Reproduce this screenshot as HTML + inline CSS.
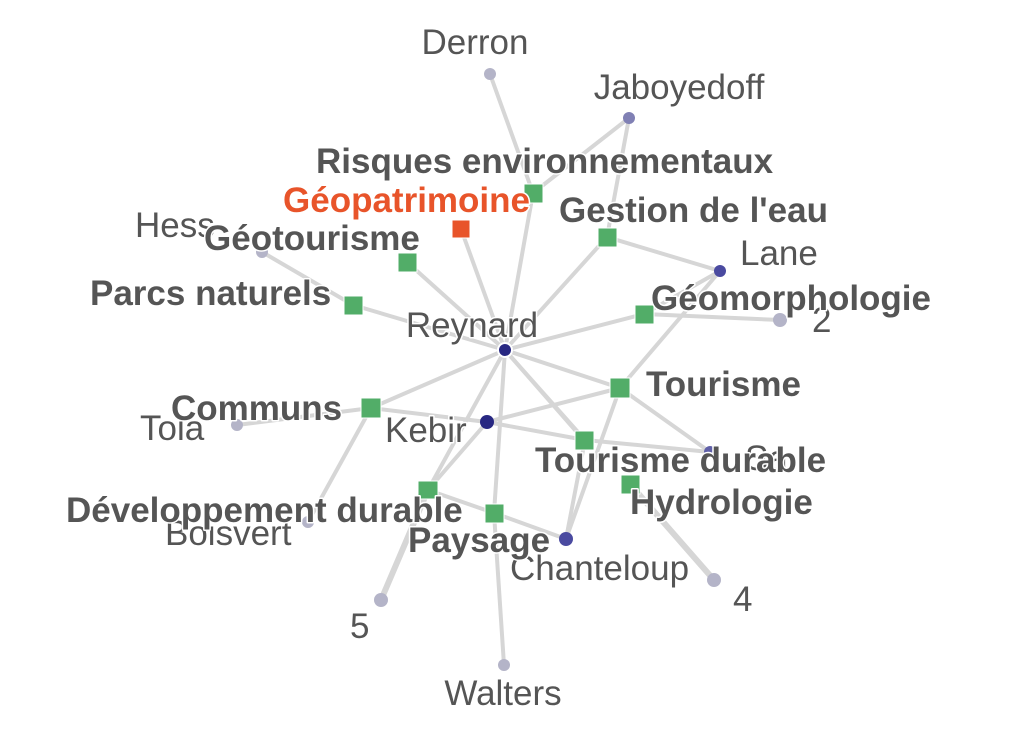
<!DOCTYPE html>
<html><head><meta charset="utf-8"><style>
html,body{margin:0;padding:0;background:#fff;}
svg{display:block;}
text{font-family:"Liberation Sans",Arial,sans-serif;fill:#555;stroke:#fff;stroke-width:3px;paint-order:stroke;stroke-linejoin:round;}
.n{font-size:35px;}
.b{font-size:35px;font-weight:bold;}
</style></head><body>
<svg width="1024" height="741" viewBox="0 0 1024 741">
<g stroke="#d6d6d6" stroke-width="4" fill="none" stroke-linecap="round">
<line x1="490" y1="74" x2="533" y2="193"/>
<line x1="629" y1="118" x2="533" y2="193"/>
<line x1="629" y1="118" x2="607" y2="237"/>
<line x1="533" y1="193" x2="505" y2="350"/>
<line x1="461" y1="229" x2="505" y2="350"/>
<line x1="607" y1="237" x2="505" y2="350"/>
<line x1="607" y1="237" x2="720" y2="271"/>
<line x1="720" y1="271" x2="620" y2="388"/>
<line x1="720" y1="271" x2="644" y2="314"/>
<line x1="407" y1="262" x2="505" y2="350"/>
<line x1="262" y1="252" x2="353" y2="305"/>
<line x1="353" y1="305" x2="505" y2="350"/>
<line x1="644" y1="314" x2="505" y2="350"/>
<line x1="644" y1="314" x2="780" y2="320"/>
<line x1="620" y1="388" x2="505" y2="350"/>
<line x1="620" y1="388" x2="487" y2="422"/>
<line x1="620" y1="388" x2="710" y2="452"/>
<line x1="620" y1="388" x2="566" y2="539"/>
<line x1="371" y1="408" x2="505" y2="350"/>
<line x1="371" y1="408" x2="237" y2="425"/>
<line x1="371" y1="408" x2="487" y2="422"/>
<line x1="371" y1="408" x2="308" y2="522"/>
<line x1="487" y1="422" x2="585" y2="440"/>
<line x1="487" y1="422" x2="428" y2="490"/>
<line x1="505" y1="350" x2="585" y2="440"/>
<line x1="505" y1="350" x2="575" y2="430"/>
<line x1="505" y1="350" x2="494" y2="513"/>
<line x1="505" y1="350" x2="428" y2="490"/>
<line x1="585" y1="440" x2="710" y2="452"/>
<line x1="585" y1="440" x2="566" y2="539"/>
<line x1="428" y1="490" x2="494" y2="513"/>
<line x1="494" y1="513" x2="566" y2="539"/>
<line x1="428" y1="490" x2="381" y2="600" stroke-width="6"/>
<line x1="494" y1="513" x2="504" y2="665"/>
<line x1="630" y1="484" x2="714" y2="580" stroke-width="6"/>
</g>
<g>
<circle cx="490" cy="74" r="6" fill="#b4b4c8"/>
<circle cx="629" cy="118" r="6" fill="#8080b4"/>
<circle cx="720" cy="271" r="6" fill="#4a4aa0"/>
<circle cx="780" cy="320" r="7" fill="#b4b4c8"/>
<circle cx="505" cy="350" r="7" fill="#282882" stroke="#fff" stroke-width="2"/>
<circle cx="487" cy="422" r="7" fill="#282882"/>
<circle cx="237" cy="425" r="6" fill="#b4b4c8"/>
<circle cx="710" cy="452" r="6" fill="#6060a8"/>
<circle cx="566" cy="539" r="7" fill="#4a4aa0"/>
<circle cx="714" cy="580" r="7" fill="#b4b4c8"/>
<circle cx="381" cy="600" r="7" fill="#b4b4c8"/>
<circle cx="504" cy="665" r="6" fill="#b4b4c8"/>
<circle cx="308" cy="522" r="6" fill="#b4b4c8"/>
<circle cx="262" cy="252" r="6" fill="#b4b4c8"/>
</g>
<g fill="#52ad68" stroke="#fff" stroke-width="1">
<rect x="524" y="184" width="19" height="19"/>
<rect x="452" y="220" width="18" height="18" fill="#e8542a"/>
<rect x="598" y="228" width="19" height="19"/>
<rect x="398" y="253" width="19" height="19"/>
<rect x="344" y="296" width="19" height="19"/>
<rect x="635" y="305" width="19" height="19"/>
<rect x="610" y="378" width="20" height="20"/>
<rect x="361" y="398" width="20" height="20"/>
<rect x="575" y="431" width="19" height="19"/>
<rect x="621" y="475" width="19" height="19"/>
<rect x="418" y="481" width="20" height="18"/>
<rect x="485" y="504" width="19" height="19"/>
</g>
<g class="n">
<text x="475" y="54" text-anchor="middle">Derron</text>
<text x="679" y="99" text-anchor="middle">Jaboyedoff</text>
<text x="740" y="265">Lane</text>
<text x="812" y="332">2</text>
<text x="472" y="337" text-anchor="middle">Reynard</text>
<text x="385" y="442">Kebir</text>
<text x="140" y="440">Toia</text>
<text x="745" y="470">Sa</text>
<text x="510" y="580">Chanteloup</text>
<text x="733" y="611">4</text>
<text x="350" y="638">5</text>
<text x="503" y="705" text-anchor="middle">Walters</text>
<text x="165" y="545">Boisvert</text>
<text x="135" y="237">Hess</text>
</g>
<g class="b">
<text x="316" y="173">Risques environnementaux</text>
<text x="283" y="212" style="fill:#e8542a">Géopatrimoine</text>
<text x="559" y="222">Gestion de l'eau</text>
<text x="204" y="250">Géotourisme</text>
<text x="90" y="305">Parcs naturels</text>
<text x="651" y="310">Géomorphologie</text>
<text x="646" y="396">Tourisme</text>
<text x="171" y="420">Communs</text>
<text x="535" y="472">Tourisme durable</text>
<text x="630" y="514">Hydrologie</text>
<text x="66" y="522">Développement durable</text>
<text x="408" y="552">Paysage</text>
</g>
</svg>
</body></html>
